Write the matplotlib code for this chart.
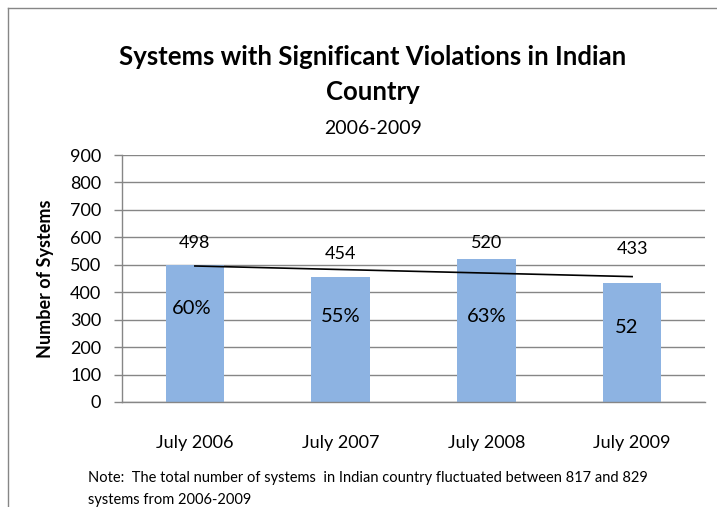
import matplotlib
matplotlib.use("Agg")
import matplotlib.pyplot as plt
from matplotlib.lines import Line2D
import numpy as np

categories = ["July 2006", "July 2007", "July 2008", "July 2009"]
values = [498, 454, 520, 433]
pct_labels = ["60%", "55%", "63%", "52"]
yticks = [0, 100, 200, 300, 400, 500, 600, 700, 800, 900]

# label placement (data units) - layout only
value_label_y = [580, 539, 580, 557]
pct_label_y = [339, 310, 310, 270]
pct_label_dx = [-0.02, 0.0, 0.0, -0.04]

plt.rcParams['font.family'] = ['Lato', 'DejaVu Sans']
fig = plt.figure(figsize=(7.17, 5.07), dpi=100)
W, H = 717, 507
ax = fig.add_axes([122 / W, 1 - 402 / H, (705 - 122) / W, (402 - 155) / H])

x = np.arange(len(categories))
bar_color = '#8DB3E2'
ax.bar(x, values, width=0.4, color=bar_color, zorder=2)

# linear trend line
coef = np.polyfit(x, values, 1)
ax.plot(x[[0, -1]], np.polyval(coef, x[[0, -1]]), color='black', lw=1.2, zorder=3)

for xi, v, ly in zip(x, values, value_label_y):
    ax.text(xi, ly, str(v), ha='center', va='center', fontsize=13, color='black', zorder=4)
for xi, p, py, dx in zip(x, pct_labels, pct_label_y, pct_label_dx):
    ax.text(xi + dx, py, p, ha='center', va='center', fontsize=14.5, color='black', zorder=4)

ax.set_xlim(-0.5, len(categories) - 0.5)
ax.set_ylim(0, 900)
ax.set_yticks(yticks)
ax.set_yticklabels([str(t) for t in yticks], fontsize=13)
ax.set_xticks(x)
ax.set_xticklabels(categories, fontsize=13)
ax.tick_params(axis='x', length=0, pad=24)
ax.tick_params(axis='y', length=6, color='#868686', width=1, pad=9)
ax.grid(axis='y', color='#868686', lw=1, zorder=0)
ax.set_axisbelow(True)
for s in ['top', 'right']:
    ax.spines[s].set_visible(False)
for s in ['left', 'bottom']:
    ax.spines[s].set_color('#868686')
    ax.spines[s].set_linewidth(1)
ax.set_ylabel("Number of Systems", fontsize=13, fontweight='bold')
ax.yaxis.set_label_coords(54 / W, 1 - 279 / H, transform=fig.transFigure)

fig.text(373 / W, 1 - 57 / H, "Systems with Significant Violations in Indian",
         ha='center', va='center', fontsize=18.5, fontweight='bold')
fig.text(373 / W, 1 - 92 / H, "Country",
         ha='center', va='center', fontsize=18.5, fontweight='bold')
fig.text(373 / W, 1 - 128 / H, "2006-2009",
         ha='center', va='center', fontsize=14)

fig.text(88 / W, 1 - 478 / H,
         "Note:  The total number of systems  in Indian country fluctuated between 817 and 829",
         ha='left', va='center', fontsize=10.5)
fig.text(88 / W, 1 - 500 / H, "systems from 2006-2009",
         ha='left', va='center', fontsize=10.5)

# chart area border
fig.add_artist(Line2D([8 / W, 8 / W], [0, 1 - 8 / H], transform=fig.transFigure,
                      color='#868686', lw=1))
fig.add_artist(Line2D([8 / W, 1], [1 - 8 / H, 1 - 8 / H], transform=fig.transFigure,
                      color='#868686', lw=1))

fig.savefig("out.png", dpi=100)
